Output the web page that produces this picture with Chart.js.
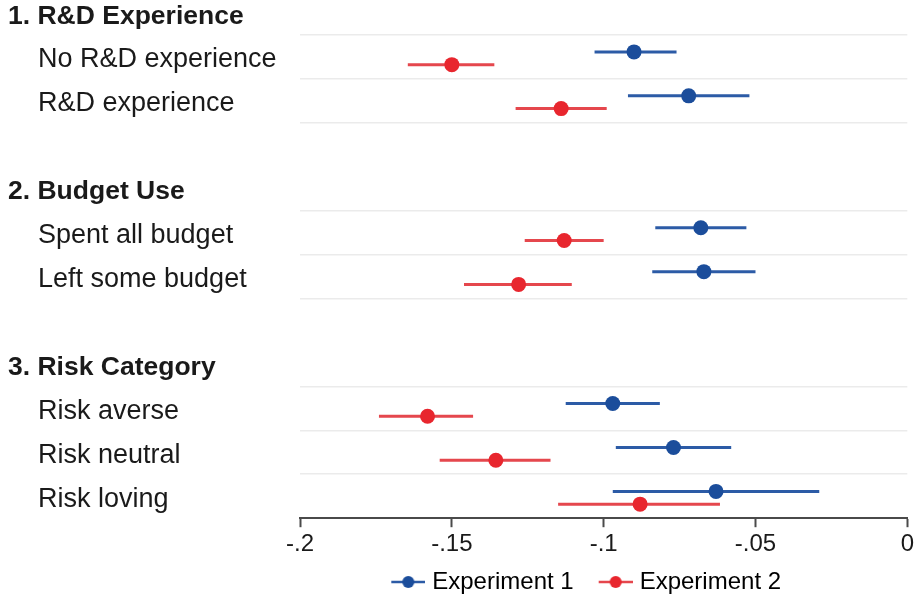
<!DOCTYPE html>
<html>
<head>
<meta charset="utf-8">
<script src="https://cdn.jsdelivr.net/npm/chart.js@4"></script>
<style>
  html, body { margin: 0; background: #fff; }
  #wrap { width: 917px; height: 604px; }
</style>
</head>
<body>
<div id="wrap"><canvas id="coefChart"></canvas></div>
<script>
// group headers and the rows under each one
const groupTitles = ['1. R&D Experience', '2. Budget Use', '3. Risk Category'];
const groupSizes = [2, 2, 3];
const rowLabels = ['No R&D experience', 'R&D experience', 'Spent all budget', 'Left some budget',
    'Risk averse', 'Risk neutral', 'Risk loving'];

// point estimates and confidence bounds
const exp1Est = [-0.090, -0.072, -0.068, -0.067, -0.097, -0.077, -0.063];
const exp1Lo  = [-0.103, -0.092, -0.083, -0.084, -0.1125, -0.096, -0.097];
const exp1Hi  = [-0.076, -0.052, -0.053, -0.050, -0.0815, -0.058, -0.029];
const exp2Est = [-0.150, -0.114, -0.113, -0.128, -0.158, -0.1355, -0.088];
const exp2Lo  = [-0.1645, -0.129, -0.126, -0.146, -0.174, -0.154, -0.115];
const exp2Hi  = [-0.136, -0.099, -0.100, -0.1105, -0.143, -0.1175, -0.0617];

const xTicks = [-0.2, -0.15, -0.1, -0.05, 0];
const seriesNames = ['Experiment 1', 'Experiment 2'];

const BLUE = '#1b4d9b';
const BLUE_LINE = '#2c5ba6';
const RED = '#e8262e';
const RED_LINE = '#e5474d';
const FONT = "'Liberation Sans', Arial, sans-serif";

// lay rows out in slots: header, items, one empty slot between groups
const rowSlots = [], headSlots = [], gridSlots = [];
let slot = 0;
groupSizes.forEach(n => {
    headSlots.push(slot);
    gridSlots.push(slot + 0.5);
    for (let i = 0; i < n; i++) {
        rowSlots.push(slot + 1 + i);
        gridSlots.push(slot + 1.5 + i);
    }
    slot += n + 2;
});
const lastSlot = rowSlots[rowSlots.length - 1];

const SHIFT1 = -0.11, SHIFT2 = 0.18;

function ciSegments(lo, hi, shift) {
    const pts = [];
    lo.forEach((v, i) => {
        const y = rowSlots[i] + shift;
        pts.push({ x: v, y: y }, { x: hi[i], y: y }, { x: null, y: null });
    });
    return pts;
}

function estPoints(est, shift) {
    return est.map((v, i) => ({ x: v, y: rowSlots[i] + shift }));
}

// legend symbol: short line with a dot, transparent margin on the left
function legendMark(color, lineColor) {
    const c = document.createElement('canvas');
    c.width = 56; c.height = 16;
    const g = c.getContext('2d');
    g.strokeStyle = lineColor; g.lineWidth = 2.5;
    g.beginPath(); g.moveTo(22, 8); g.lineTo(56, 8); g.stroke();
    g.fillStyle = color;
    g.beginPath(); g.arc(39, 8, 6, 0, Math.PI * 2); g.fill();
    return c;
}
const marks = [legendMark(BLUE, BLUE_LINE), legendMark(RED, RED_LINE)];

// row labels drawn left of the plot; legend nudged left like the original
const rowLabelPlugin = {
    id: 'rowLabels',
    afterLayout(chart) {
        const lg = chart.legend;
        if (lg) { lg.left -= 26; lg.right -= 26; }
    },
    afterDraw(chart) {
        const y = chart.scales.y;
        const ctx = chart.ctx;
        ctx.save();
        ctx.fillStyle = '#1a1a1a';
        ctx.textBaseline = 'middle';
        ctx.textAlign = 'left';
        ctx.font = 'bold 26.5px ' + FONT;
        groupTitles.forEach((t, i) => ctx.fillText(t, 8, y.getPixelForValue(headSlots[i] + 0.08)));
        ctx.font = '27px ' + FONT;
        rowLabels.forEach((t, i) => ctx.fillText(t, 38, y.getPixelForValue(rowSlots[i] + 0.07)));
        ctx.restore();
    }
};

const chart = new Chart(document.getElementById('coefChart'), {
    type: 'scatter',
    data: {
        datasets: [
            { label: seriesNames[0], data: estPoints(exp1Est, SHIFT1), backgroundColor: BLUE, borderColor: BLUE,
              pointRadius: 7.5, pointHoverRadius: 7.5, borderWidth: 0, order: 0 },
            { label: seriesNames[1], data: estPoints(exp2Est, SHIFT2), backgroundColor: RED, borderColor: RED,
              pointRadius: 7.5, pointHoverRadius: 7.5, borderWidth: 0, order: 0 },
            { label: 'ci1', data: ciSegments(exp1Lo, exp1Hi, SHIFT1), showLine: true, spanGaps: false,
              borderColor: BLUE_LINE, borderWidth: 3, pointRadius: 0, order: 1 },
            { label: 'ci2', data: ciSegments(exp2Lo, exp2Hi, SHIFT2), showLine: true, spanGaps: false,
              borderColor: RED_LINE, borderWidth: 3, pointRadius: 0, order: 1 }
        ]
    },
    options: {
        responsive: true,
        maintainAspectRatio: false,
        animation: false,
        events: [],
        layout: { padding: { left: 300, right: 7, top: 0, bottom: 0 } },
        plugins: {
            tooltip: { enabled: false },
            legend: {
                position: 'bottom',
                fullSize: false,
                labels: {
                    usePointStyle: true,
                    pointStyleWidth: 46,
                    padding: 8,
                    color: '#1a1a1a',
                    font: { size: 24, family: FONT },
                    generateLabels: () => seriesNames.map((name, i) => ({
                        text: name,
                        pointStyle: marks[i],
                        fillStyle: i ? RED : BLUE,
                        strokeStyle: i ? RED : BLUE,
                        lineWidth: 0,
                        hidden: false,
                        datasetIndex: i
                    }))
                }
            }
        },
        scales: {
            x: {
                type: 'linear',
                min: xTicks[0],
                max: xTicks[xTicks.length - 1],
                afterBuildTicks: axis => { axis.ticks = xTicks.map(v => ({ value: v })); },
                ticks: {
                    color: '#1a1a1a',
                    padding: 3,
                    font: { size: 24, family: FONT },
                    callback: v => {
                        const r = Math.round(v * 100) / 100;
                        return r === 0 ? '0' : '-' + String(Math.abs(r)).replace(/^0/, '');
                    }
                },
                grid: { drawOnChartArea: false, drawTicks: true, tickLength: 9, tickColor: '#4a4a4a', tickWidth: 2 },
                border: { display: true, color: '#4a4a4a', width: 2 }
            },
            y: {
                type: 'linear',
                reverse: true,
                min: -0.12,
                max: lastSlot + 0.5,
                afterBuildTicks: axis => {
                    axis.ticks = gridSlots.filter(v => v < lastSlot + 0.4).map(v => ({ value: v }));
                },
                ticks: { display: false },
                grid: { color: '#ebebeb', lineWidth: 1.5, drawTicks: false },
                border: { display: false }
            }
        }
    },
    plugins: [rowLabelPlugin]
});
</script>
</body>
</html>
